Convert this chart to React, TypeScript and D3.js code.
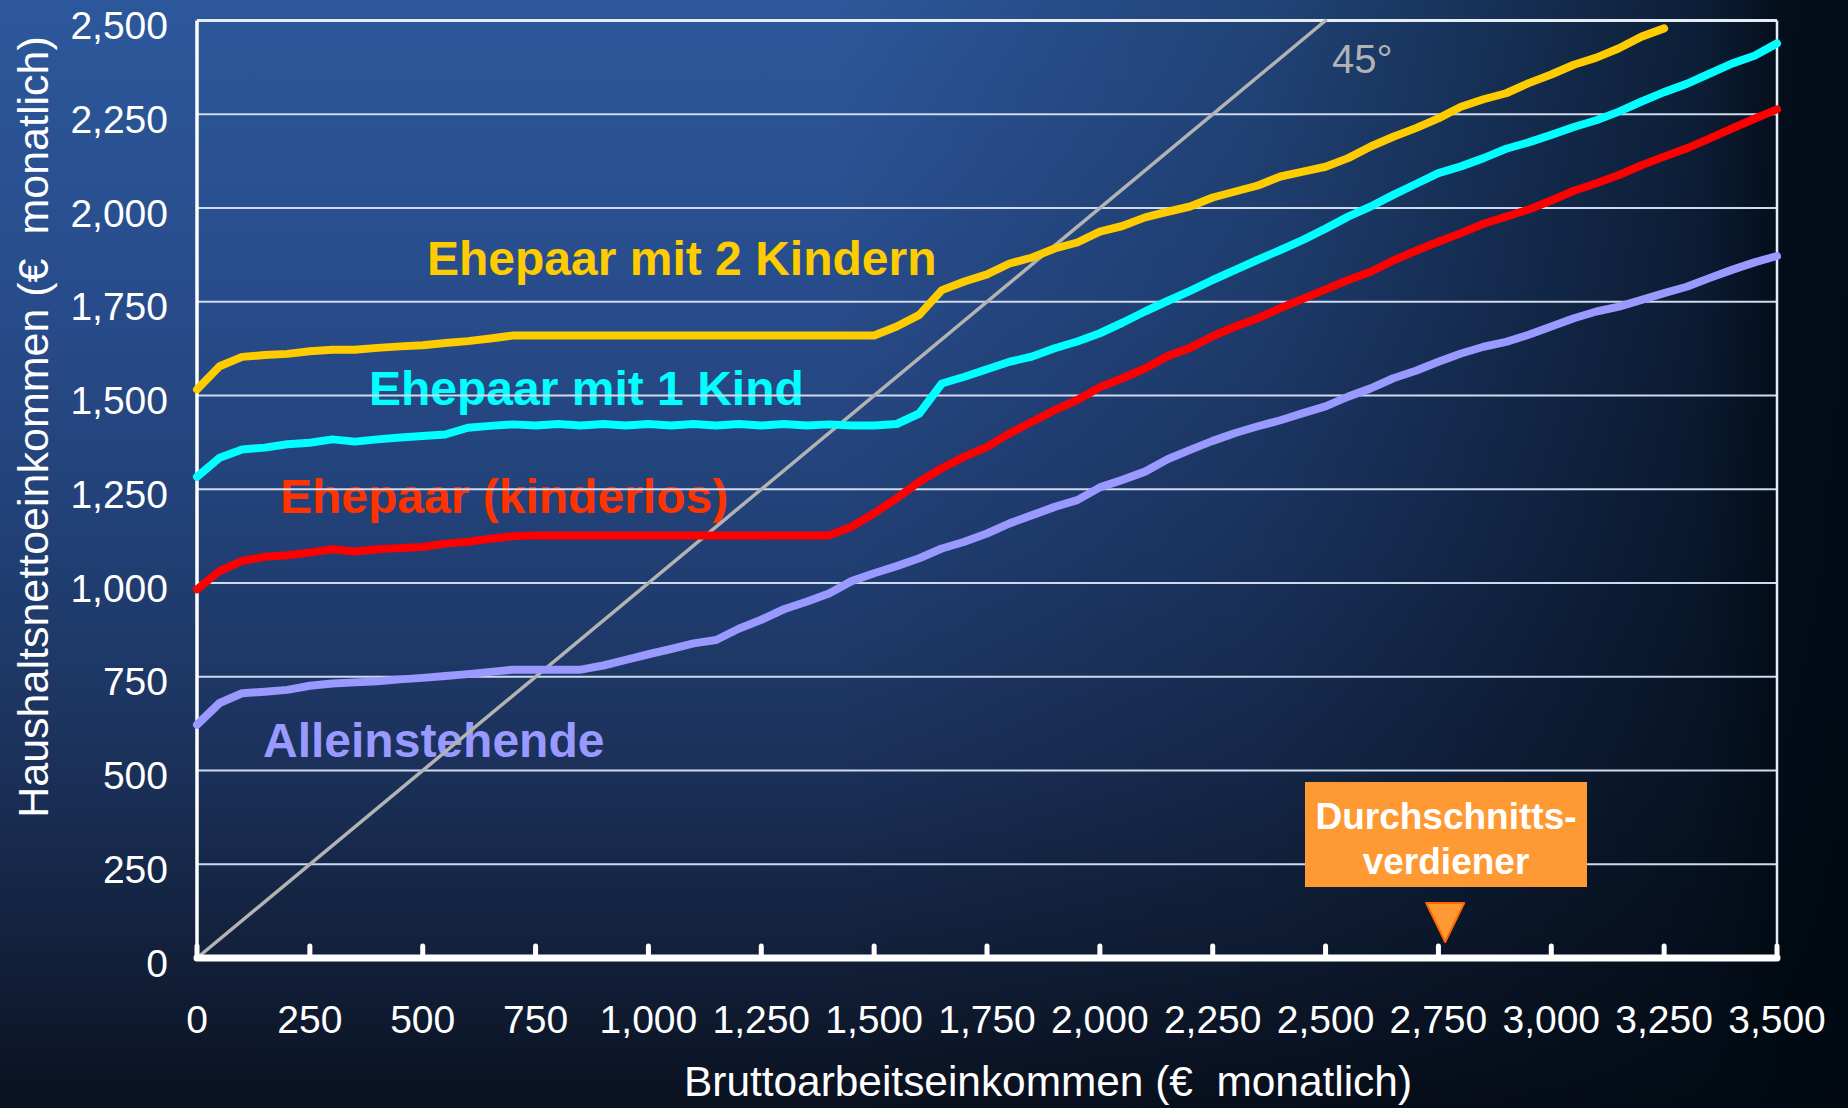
import React from 'react';
import * as d3 from 'd3';

// Gross monthly income (x) in steps of 50 €
const grossIncome = [
  0, 50, 100, 150, 200, 250, 300, 350, 400, 450, 500, 550, 600, 650, 700, 750, 800, 850, 900, 950,
  1000, 1050, 1100, 1150, 1200, 1250, 1300, 1350, 1400, 1450, 1500, 1550, 1600, 1650, 1700, 1750,
  1800, 1850, 1900, 1950, 2000, 2050, 2100, 2150, 2200, 2250, 2300, 2350, 2400, 2450, 2500, 2550,
  2600, 2650, 2700, 2750, 2800, 2850, 2900, 2950, 3000, 3050, 3100, 3150, 3200, 3250, 3300, 3350,
  3400, 3450, 3500,
];

// Ehepaar mit 2 Kindern (ends at 3,250)
const coupleTwoKids = [
  1516, 1578, 1603, 1608, 1611, 1618, 1622, 1622, 1627, 1631, 1634, 1640, 1645, 1652, 1660, 1660,
  1660, 1660, 1660, 1660, 1660, 1660, 1660, 1660, 1660, 1660, 1660, 1660, 1660, 1660, 1660, 1684,
  1715, 1781, 1804, 1823, 1852, 1868, 1892, 1908, 1937, 1952, 1975, 1990, 2004, 2028, 2044, 2060,
  2084, 2097, 2110, 2133, 2164, 2190, 2213, 2239, 2270, 2290, 2306, 2333, 2356, 2382, 2401, 2426,
  2457, 2479,
];

// Ehepaar mit 1 Kind
const coupleOneKid = [
  1283, 1334, 1356, 1361, 1370, 1374, 1383, 1377, 1383, 1388, 1392, 1396, 1414, 1419, 1423, 1420,
  1424, 1420, 1424, 1420, 1424, 1420, 1424, 1420, 1424, 1420, 1424, 1420, 1423, 1420, 1420, 1424,
  1452, 1532, 1550, 1570, 1590, 1604, 1626, 1644, 1666, 1694, 1724, 1752, 1779, 1808, 1835, 1862,
  1888, 1915, 1945, 1977, 2004, 2035, 2064, 2093, 2111, 2133, 2158, 2175, 2195, 2216, 2234, 2257,
  2284, 2309, 2331, 2358, 2385, 2406, 2439,
];

// Ehepaar (kinderlos)
const coupleNoKids = [
  983, 1032, 1059, 1070, 1074, 1081, 1090, 1084, 1090, 1093, 1096, 1105, 1110, 1118, 1125, 1127,
  1127, 1127, 1127, 1127, 1127, 1127, 1127, 1127, 1127, 1127, 1127, 1127, 1127, 1150, 1186, 1226,
  1270, 1306, 1337, 1363, 1399, 1430, 1461, 1488, 1522, 1546, 1572, 1605, 1627, 1658, 1684, 1706,
  1733, 1758, 1783, 1808, 1830, 1860, 1886, 1910, 1933, 1958, 1977, 1996, 2020, 2046, 2066, 2088,
  2114, 2137, 2159, 2185, 2212, 2238, 2263,
];

// Alleinstehende
const single = [
  622, 680, 706, 710, 715, 726, 732, 735, 738, 743, 747, 752, 757, 763, 769, 769, 769, 769, 780, 795,
  810, 824, 839, 848, 878, 902, 930, 950, 972, 1005, 1026, 1045, 1066, 1092, 1110, 1132, 1159, 1181,
  1203, 1221, 1255, 1275, 1297, 1330, 1355, 1379, 1400, 1418, 1434, 1453, 1471, 1497, 1519, 1546,
  1566, 1590, 1612, 1630, 1643, 1662, 1684, 1706, 1724, 1737, 1755, 1773, 1790, 1813, 1835, 1855, 1872,
];

// 45° reference line
const diagonalX = [0, 2500];
const diagonalY = [0, 2500];

const xTicks = [0, 250, 500, 750, 1000, 1250, 1500, 1750, 2000, 2250, 2500, 2750, 3000, 3250, 3500];
const yTicks = [0, 250, 500, 750, 1000, 1250, 1500, 1750, 2000, 2250, 2500];

const averageEarner = 2765;

const seriesNames = ['Ehepaar mit 2 Kindern', 'Ehepaar mit 1 Kind', 'Ehepaar (kinderlos)', 'Alleinstehende'];

const W = 1848;
const H = 1108;
const M = { left: 197, right: 1777, top: 20.5, bottom: 958 };
const FONT = '"Liberation Sans", Arial, Helvetica, sans-serif';

export default function App() {
  const x = d3.scaleLinear().domain([0, 3500]).range([M.left, M.right]);
  const y = d3.scaleLinear().domain([0, 2500]).range([M.bottom, M.top]);
  const fmt = d3.format(',');

  const line = d3
    .line<[number, number]>()
    .x((d) => x(d[0]))
    .y((d) => y(d[1]));

  const pairs = (vals: number[]) => vals.map((v, i) => [grossIncome[i], v] as [number, number]);

  const series = [
    { vals: single, color: '#9999ff' },
    { vals: coupleNoKids, color: '#ff0000' },
    { vals: coupleOneKid, color: '#00ffff' },
    { vals: coupleTwoKids, color: '#ffcc00' },
  ];

  const labels = [
    { text: seriesNames[0], color: '#ffcc00', x: 427, y: 275 },
    { text: seriesNames[1], color: '#00ffff', x: 369, y: 405 },
    { text: seriesNames[2], color: '#ff3300', x: 280, y: 513 },
    { text: seriesNames[3], color: '#9999ff', x: 263, y: 757 },
  ];

  const diag = diagonalX.map((v, i) => [v, diagonalY[i]] as [number, number]);
  const tipX = x(averageEarner);

  return (
    <svg
      width={W}
      height={H}
      style={{ position: 'fixed', left: 0, top: 0, display: 'block' }}
      fontFamily={FONT}
    >
      <defs>
        <linearGradient id="bgV" x1="0" y1="0" x2="0" y2="1">
          <stop offset="0" stopColor="#2c589b" />
          <stop offset="0.27" stopColor="#284c8b" />
          <stop offset="0.5" stopColor="#213f74" />
          <stop offset="0.69" stopColor="#1b315a" />
          <stop offset="0.9" stopColor="#101c33" />
          <stop offset="1" stopColor="#0a111f" />
        </linearGradient>
        <linearGradient id="bgH" x1="0" y1="0" x2="1" y2="0">
          <stop offset="0" stopColor="#000810" stopOpacity="0" />
          <stop offset="0.45" stopColor="#000810" stopOpacity="0" />
          <stop offset="0.68" stopColor="#000810" stopOpacity="0.25" />
          <stop offset="0.76" stopColor="#000810" stopOpacity="0.4" />
          <stop offset="0.92" stopColor="#000810" stopOpacity="0.72" />
          <stop offset="0.965" stopColor="#000810" stopOpacity="0.92" />
          <stop offset="1" stopColor="#000810" stopOpacity="0.95" />
        </linearGradient>
      </defs>
      <rect x={0} y={0} width={W} height={H} fill="url(#bgV)" />
      <rect x={0} y={0} width={W} height={H} fill="url(#bgH)" />

      {/* series labels (under grid) */}
      {labels.map((l) => (
        <text key={l.text} x={l.x} y={l.y} fill={l.color} fontSize={48} fontWeight="bold">
          {l.text}
        </text>
      ))}

      {/* gridlines */}
      {yTicks
        .filter((t) => t > 0)
        .map((t) => (
          <line key={t} x1={M.left} x2={M.right} y1={y(t)} y2={y(t)} stroke="#cfdaee" strokeWidth={2} />
        ))}

      {/* frame */}
      <line x1={M.left} x2={M.right} y1={M.top} y2={M.top} stroke="#e6ecf6" strokeWidth={3} />
      <line x1={M.right} x2={M.right} y1={M.top} y2={M.bottom} stroke="#e6ecf6" strokeWidth={2.5} />
      <line x1={M.left} x2={M.left} y1={M.top} y2={M.bottom} stroke="#ffffff" strokeWidth={3.5} />

      {/* 45° line */}
      <path d={line(diag) || ''} fill="none" stroke="#b3b3b3" strokeWidth={3.5} strokeLinecap="round" />
      <text x={1332} y={73} fill="#b3b3b3" fontSize={40}>
        45°
      </text>

      {/* x axis */}
      <line
        x1={M.left}
        x2={M.right}
        y1={M.bottom}
        y2={M.bottom}
        stroke="#ffffff"
        strokeWidth={7}
        strokeLinecap="round"
      />
      {xTicks.map((t) => (
        <line
          key={t}
          x1={x(t)}
          x2={x(t)}
          y1={M.bottom}
          y2={M.bottom - 12}
          stroke="#ffffff"
          strokeWidth={5}
          strokeLinecap="round"
        />
      ))}

      {/* series lines */}
      {series.map((s, i) => (
        <path
          key={i}
          d={line(pairs(s.vals)) || ''}
          fill="none"
          stroke={s.color}
          strokeWidth={8}
          strokeLinejoin="round"
          strokeLinecap="round"
        />
      ))}

      {/* y tick labels */}
      {yTicks.map((t) => (
        <text key={t} x={168} y={y(t) + 18.5} fill="#ffffff" fontSize={39} textAnchor="end">
          {fmt(t)}
        </text>
      ))}

      {/* x tick labels */}
      {xTicks.map((t) => (
        <text key={t} x={x(t)} y={1033} fill="#ffffff" fontSize={39} textAnchor="middle">
          {fmt(t)}
        </text>
      ))}

      {/* axis titles */}
      <text x={684} y={1096} fill="#ffffff" fontSize={42.4} style={{ whiteSpace: 'pre' }}>
        {'Bruttoarbeitseinkommen (€  monatlich)'}
      </text>
      <text
        transform={`translate(48, 427) rotate(-90)`}
        fill="#ffffff"
        fontSize={43}
        textAnchor="middle"
        style={{ whiteSpace: 'pre' }}
      >
        {'Haushaltsnettoeinkommen (€  monatlich)'}
      </text>

      {/* average earner marker */}
      <rect x={1305} y={782} width={282} height={105} fill="#ff9933" />
      <text x={1446} y={829} fill="#ffffff" fontSize={37} fontWeight="bold" textAnchor="middle">
        Durchschnitts-
      </text>
      <text x={1446} y={874} fill="#ffffff" fontSize={37} fontWeight="bold" textAnchor="middle">
        verdiener
      </text>
      <path
        d={`M${tipX - 19},${903} L${tipX + 19},${903} L${tipX},${942} Z`}
        fill="#ff9933"
        stroke="#ff6600"
        strokeWidth={2}
        strokeLinejoin="round"
      />
    </svg>
  );
}
